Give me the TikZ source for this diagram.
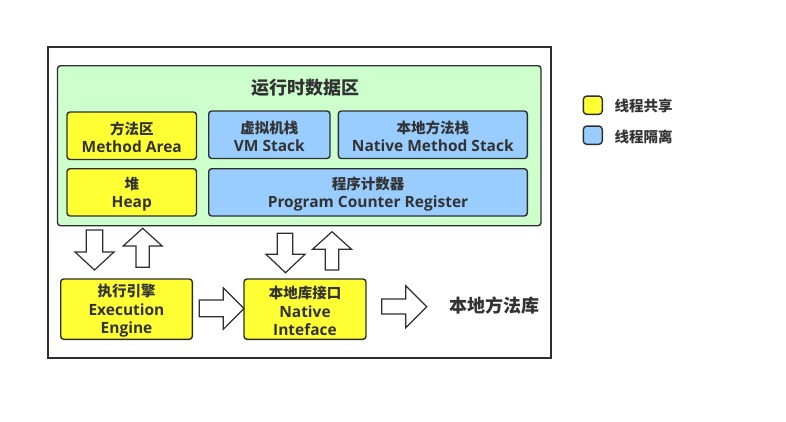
\documentclass[tikz,border=0pt]{standalone}
\usepackage{fontspec}
\setmainfont{Open Sans}
\newfontfamily\cjk{Noto Sans CJK SC}
\newcommand\zh[1]{{\fontsize{14.5}{18.5}\selectfont\cjk\rule{0pt}{16pt}#1}}
\definecolor{txt}{HTML}{333333}
\definecolor{edge}{HTML}{2E2E2E}
\definecolor{yel}{HTML}{FFFF33}
\definecolor{blu}{HTML}{99CCFF}
\definecolor{grn}{HTML}{CCFFCC}
\tikzset{
  box/.style={draw=edge, line width=1.4pt, rounded corners=3pt, inner sep=0pt,
    align=center, text=txt, font=\fontsize{15.5}{18.5}\selectfont\bfseries},
  shared/.style={box, fill=yel},
  private/.style={box, fill=blu},
  blockarrow/.style={draw=edge, fill=white, line width=1.2pt, line join=miter},
  legendtxt/.style={text=txt, font=\fontsize{14.5}{18}\selectfont\bfseries\cjk, anchor=west, inner sep=0pt},
}
\begin{document}
\begin{tikzpicture}[x=1pt,y=-1pt]
\useasboundingbox[fill=white] (0,0) rectangle (786,421);
% outer frame
\node[draw=edge, line width=1.4pt, minimum width=503pt, minimum height=311pt, inner sep=0pt] (outer) at (299.5,202.5) {};
% runtime data area
\node[draw=edge, line width=1.4pt, fill=grn, rounded corners=3pt, minimum width=483.5pt, minimum height=160pt, inner sep=0pt] (rda) at (299.25,145.7) {};
\node[text=txt, font=\fontsize{18}{20}\selectfont\bfseries\cjk, inner sep=0pt] (rdatitle) at (305,88) {运行时数据区};
\node[shared, minimum width=129.5pt, minimum height=47.5pt] (method) at (131.75,135.75) {\zh{方法区}\\Method Area};
\node[private, minimum width=121.3pt, minimum height=47.5pt] (vm) at (269.35,134.75) {\zh{虚拟机栈}\\VM Stack};
\node[private, minimum width=189pt, minimum height=47.5pt] (nms) at (432.8,134.75) {\zh{本地方法栈}\\Native Method Stack};
\node[shared, minimum width=129.5pt, minimum height=47.3pt] (heap) at (131.75,192.35) {\zh{堆}\\Heap};
\node[private, minimum width=318.6pt, minimum height=47.3pt] (pcr) at (368,192.35) {\zh{程序计数器}\\Program Counter Register};
% lower row
\node[shared, minimum width=131.6pt, minimum height=60.3pt] (exec) at (126.5,309.15) {\zh{执行引擎}\\Execution\\Engine};
\node[shared, minimum width=122pt, minimum height=60.3pt] (nif) at (305,309.15) {\zh{本地库接口}\\Native\\Inteface};
\node[text=txt, font=\fontsize{18}{20}\selectfont\bfseries\cjk, inner sep=0pt] (nlib) at (494,306) {本地方法库};
% block arrows
\draw[blockarrow] (86.2,230) -- (102.8,230) -- (102.8,252) -- (114,252) -- (94.5,270) -- (75,252) -- (86.2,252) -- cycle;
\draw[blockarrow] (142.7,228.3) -- (162.2,246) -- (149.3,246) -- (149.3,267.3) -- (136,267.3) -- (136,246) -- (123.2,246) -- cycle;
\draw[blockarrow] (277.2,233.3) -- (292.8,233.3) -- (292.8,254.3) -- (305,254.3) -- (285.5,272.7) -- (266,254.3) -- (277.2,254.3) -- cycle;
\draw[blockarrow] (332,231.7) -- (351.5,249.3) -- (338.7,249.3) -- (338.7,270) -- (325.3,270) -- (325.3,249.3) -- (312.5,249.3) -- cycle;
\draw[blockarrow] (199.3,300) -- (223.3,300) -- (223.3,287.7) -- (244,308.5) -- (223.3,329.3) -- (223.3,316.7) -- (199.3,316.7) -- cycle;
\draw[blockarrow] (381.7,299) -- (405.7,299) -- (405.7,285.7) -- (426.7,306.7) -- (405.7,327.7) -- (405.7,314) -- (381.7,314) -- cycle;
% legend
\node[draw=edge, line width=1.4pt, fill=yel, rounded corners=3.5pt, minimum width=19pt, minimum height=18.3pt, inner sep=0pt] (legshared) at (592.8,105.2) {};
\node[draw=edge, line width=1.4pt, fill=blu, rounded corners=3.5pt, minimum width=19pt, minimum height=18.3pt, inner sep=0pt] (legprivate) at (592.8,135.2) {};
\node[legendtxt] (legsharedtxt) at (614.3,105.7) {线程共享};
\node[legendtxt] (legprivatetxt) at (614.3,136.7) {线程隔离};
\end{tikzpicture}
\end{document}
